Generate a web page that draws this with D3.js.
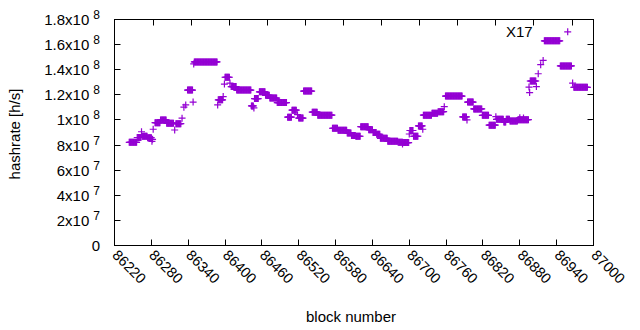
<!DOCTYPE html>
<html>
<head>
<meta charset="utf-8">
<script src="https://cdn.jsdelivr.net/npm/d3@7"></script>
<style>
  body { margin: 0; background: #fff; }
  text { font-family: "Liberation Sans", Arial, sans-serif; font-size: 15px; fill: #000; }
</style>
</head>
<body>
<svg width="640" height="330"></svg>
<script>
// hashrate in units of 10^6 h/s
// runs of blocks with the same hashrate (difficulty held constant)
var runStart = [86244, 86257, 86265, 86274, 86286, 86295, 86305, 86320, 86339, 86350,
  86389, 86400, 86410, 86419, 86443, 86448, 86456, 86466, 86473, 86485,
  86502, 86509, 86520, 86528, 86542, 86551, 86575, 86584, 86599, 86606,
  86613, 86621, 86634, 86641, 86647, 86653, 86665, 86682, 86690, 86701,
  86707, 86715, 86723, 86737, 86747, 86759, 86787, 86795, 86805, 86819,
  86830, 86842, 86854, 86858, 86864, 86877, 86897, 86920, 86946, 86968];
var runEnd = [86256, 86263, 86273, 86280, 86294, 86304, 86316, 86328, 86347, 86387,
  86396, 86407, 86418, 86442, 86446, 86454, 86465, 86472, 86484, 86500,
  86508, 86516, 86527, 86541, 86550, 86574, 86583, 86598, 86605, 86612,
  86620, 86633, 86640, 86646, 86652, 86664, 86681, 86689, 86699, 86706,
  86714, 86721, 86736, 86746, 86756, 86786, 86793, 86804, 86818, 86829,
  86840, 86853, 86857, 86863, 86876, 86894, 86906, 86945, 86964, 86990];
var runValue = [82.2, 86.0, 87.0, 85.8, 97.8, 100.0, 97.4, 97.0, 123.8, 146.2,
  116.0, 134.0, 126.6, 123.8, 111.2, 117.0, 122.4, 119.6, 117.4, 113.8,
  102.2, 107.8, 101.5, 123.0, 106.2, 103.8, 93.4, 91.8, 89.6, 87.6,
  87.0, 94.6, 92.2, 90.0, 88.6, 85.4, 83.0, 82.2, 82.0, 91.6,
  87.0, 95.2, 103.8, 105.4, 106.6, 119.0, 102.4, 114.2, 108.8, 103.7,
  95.8, 100.5, 98.4, 100.6, 99.2, 100.2, 131.0, 163.0, 143.0, 126.0];

// single blocks off the runs
var singleBlock = [86264, 86281, 86282, 86283, 86318, 86330, 86333, 86336, 86348, 86349,
  86388, 86397, 86399, 86408, 86447, 86518, 86689, 86700, 86722, 86757,
  86794, 86841, 86880, 86886, 86895, 86896, 86907, 86910, 86914, 86918,
  86958, 86966];
var singleValue = [90.6, 83.0, 84.6, 92.6, 92.0, 101.4, 110.2, 112.0, 114.2, 144.6,
  112.0, 118.6, 128.6, 129.4, 109.6, 104.2, 80.8, 88.8, 92.6, 110.6,
  100.0, 102.6, 101.8, 101.6, 126.2, 121.8, 126.6, 136.8, 144.0, 147.4,
  170.2, 129.4];

var xTicks = [86220, 86280, 86340, 86400, 86460, 86520, 86580, 86640, 86700,
  86760, 86820, 86880, 86940, 87000];
var x2Ticks = [86283, 86345, 86407, 86469, 86531, 86593, 86655, 86717, 86779,
  86841, 86903, 86965];
var yTicks = [0, 20, 40, 60, 80, 100, 120, 140, 160, 180];
var yMantissa = ["0", "2x10", "4x10", "6x10", "8x10", "1x10", "1.2x10", "1.4x10", "1.6x10", "1.8x10"];
var yExponent = ["", "7", "7", "7", "7", "8", "8", "8", "8", "8"];

var color = "#9400d3";
var svg = d3.select("svg");
var plotLeft = 114.5, plotRight = 593.5, plotTop = 19.5, plotBottom = 245.5, tickLen = 6;

var x = d3.scaleLinear().domain([86220, 87000]).range([plotLeft, plotRight]);
var y = d3.scaleLinear().domain([0, 180]).range([plotBottom, plotTop]);

svg.append("rect").attr("width", 640).attr("height", 330).attr("fill", "#fff");

// points: every block of a run plus the singles
var points = [];
runStart.forEach(function(s, i) {
  d3.range(s, runEnd[i] + 1).forEach(function(b) {
    points.push({block: b, value: runValue[i]});
  });
});
singleBlock.forEach(function(b, i) {
  points.push({block: b, value: singleValue[i]});
});

svg.append("g").selectAll("path")
  .data(points)
  .enter().append("path")
  .attr("d", "M-3.5,0H3.5M0,-3.5V3.5")
  .attr("transform", function(d) { return "translate(" + x(d.block) + "," + y(d.value) + ")"; })
  .attr("fill", "none")
  .attr("stroke", color)
  .attr("stroke-width", 1.2);

// frame and ticks
var axes = svg.append("g").attr("stroke", "#000").attr("stroke-width", 1).attr("fill", "none");
axes.append("rect")
  .attr("x", plotLeft).attr("y", plotTop)
  .attr("width", plotRight - plotLeft).attr("height", plotBottom - plotTop);

var crisp = function(v) { return Math.round(v - 0.5) + 0.5; };

axes.selectAll(".yt").data(yTicks).enter().append("path")
  .attr("d", function(d) {
    var yy = crisp(y(d));
    return "M" + plotLeft + "," + yy + "h" + tickLen + "M" + plotRight + "," + yy + "h" + (-tickLen);
  });
axes.selectAll(".xt").data(xTicks).enter().append("path")
  .attr("d", function(d) { return "M" + crisp(x(d)) + "," + plotBottom + "v" + (-tickLen); });
axes.selectAll(".x2t").data(x2Ticks).enter().append("path")
  .attr("d", function(d) { return "M" + crisp(x(d)) + "," + plotTop + "v" + tickLen; });

// y tick labels with superscript exponent
var yl = svg.append("g").selectAll("text")
  .data(yTicks).enter().append("text")
  .attr("x", 100)
  .attr("y", function(d) { return y(d) + 5.5; })
  .attr("text-anchor", "end");
yl.append("tspan").text(function(d, i) { return yMantissa[i]; });
yl.append("tspan")
  .attr("dx", function(d, i) { return yExponent[i] ? 4 : 0; })
  .attr("dy", -6)
  .style("font-size", "12px")
  .text(function(d, i) { return yExponent[i]; });

// x tick labels rotated
svg.append("g").selectAll("text")
  .data(xTicks).enter().append("text")
  .attr("transform", function(d) { return "translate(" + (x(d) - 3) + ",256) rotate(45)"; })
  .style("font-size", "14.5px")
  .text(function(d) { return d; });

svg.append("text")
  .attr("transform", "translate(20,134) rotate(-90)")
  .attr("text-anchor", "middle")
  .text("hashrate [h/s]");

svg.append("text")
  .attr("x", 351).attr("y", 322)
  .attr("text-anchor", "middle")
  .text("block number");

svg.append("text")
  .attr("x", 506).attr("y", 37)
  .text("X17");
</script>
</body>
</html>
